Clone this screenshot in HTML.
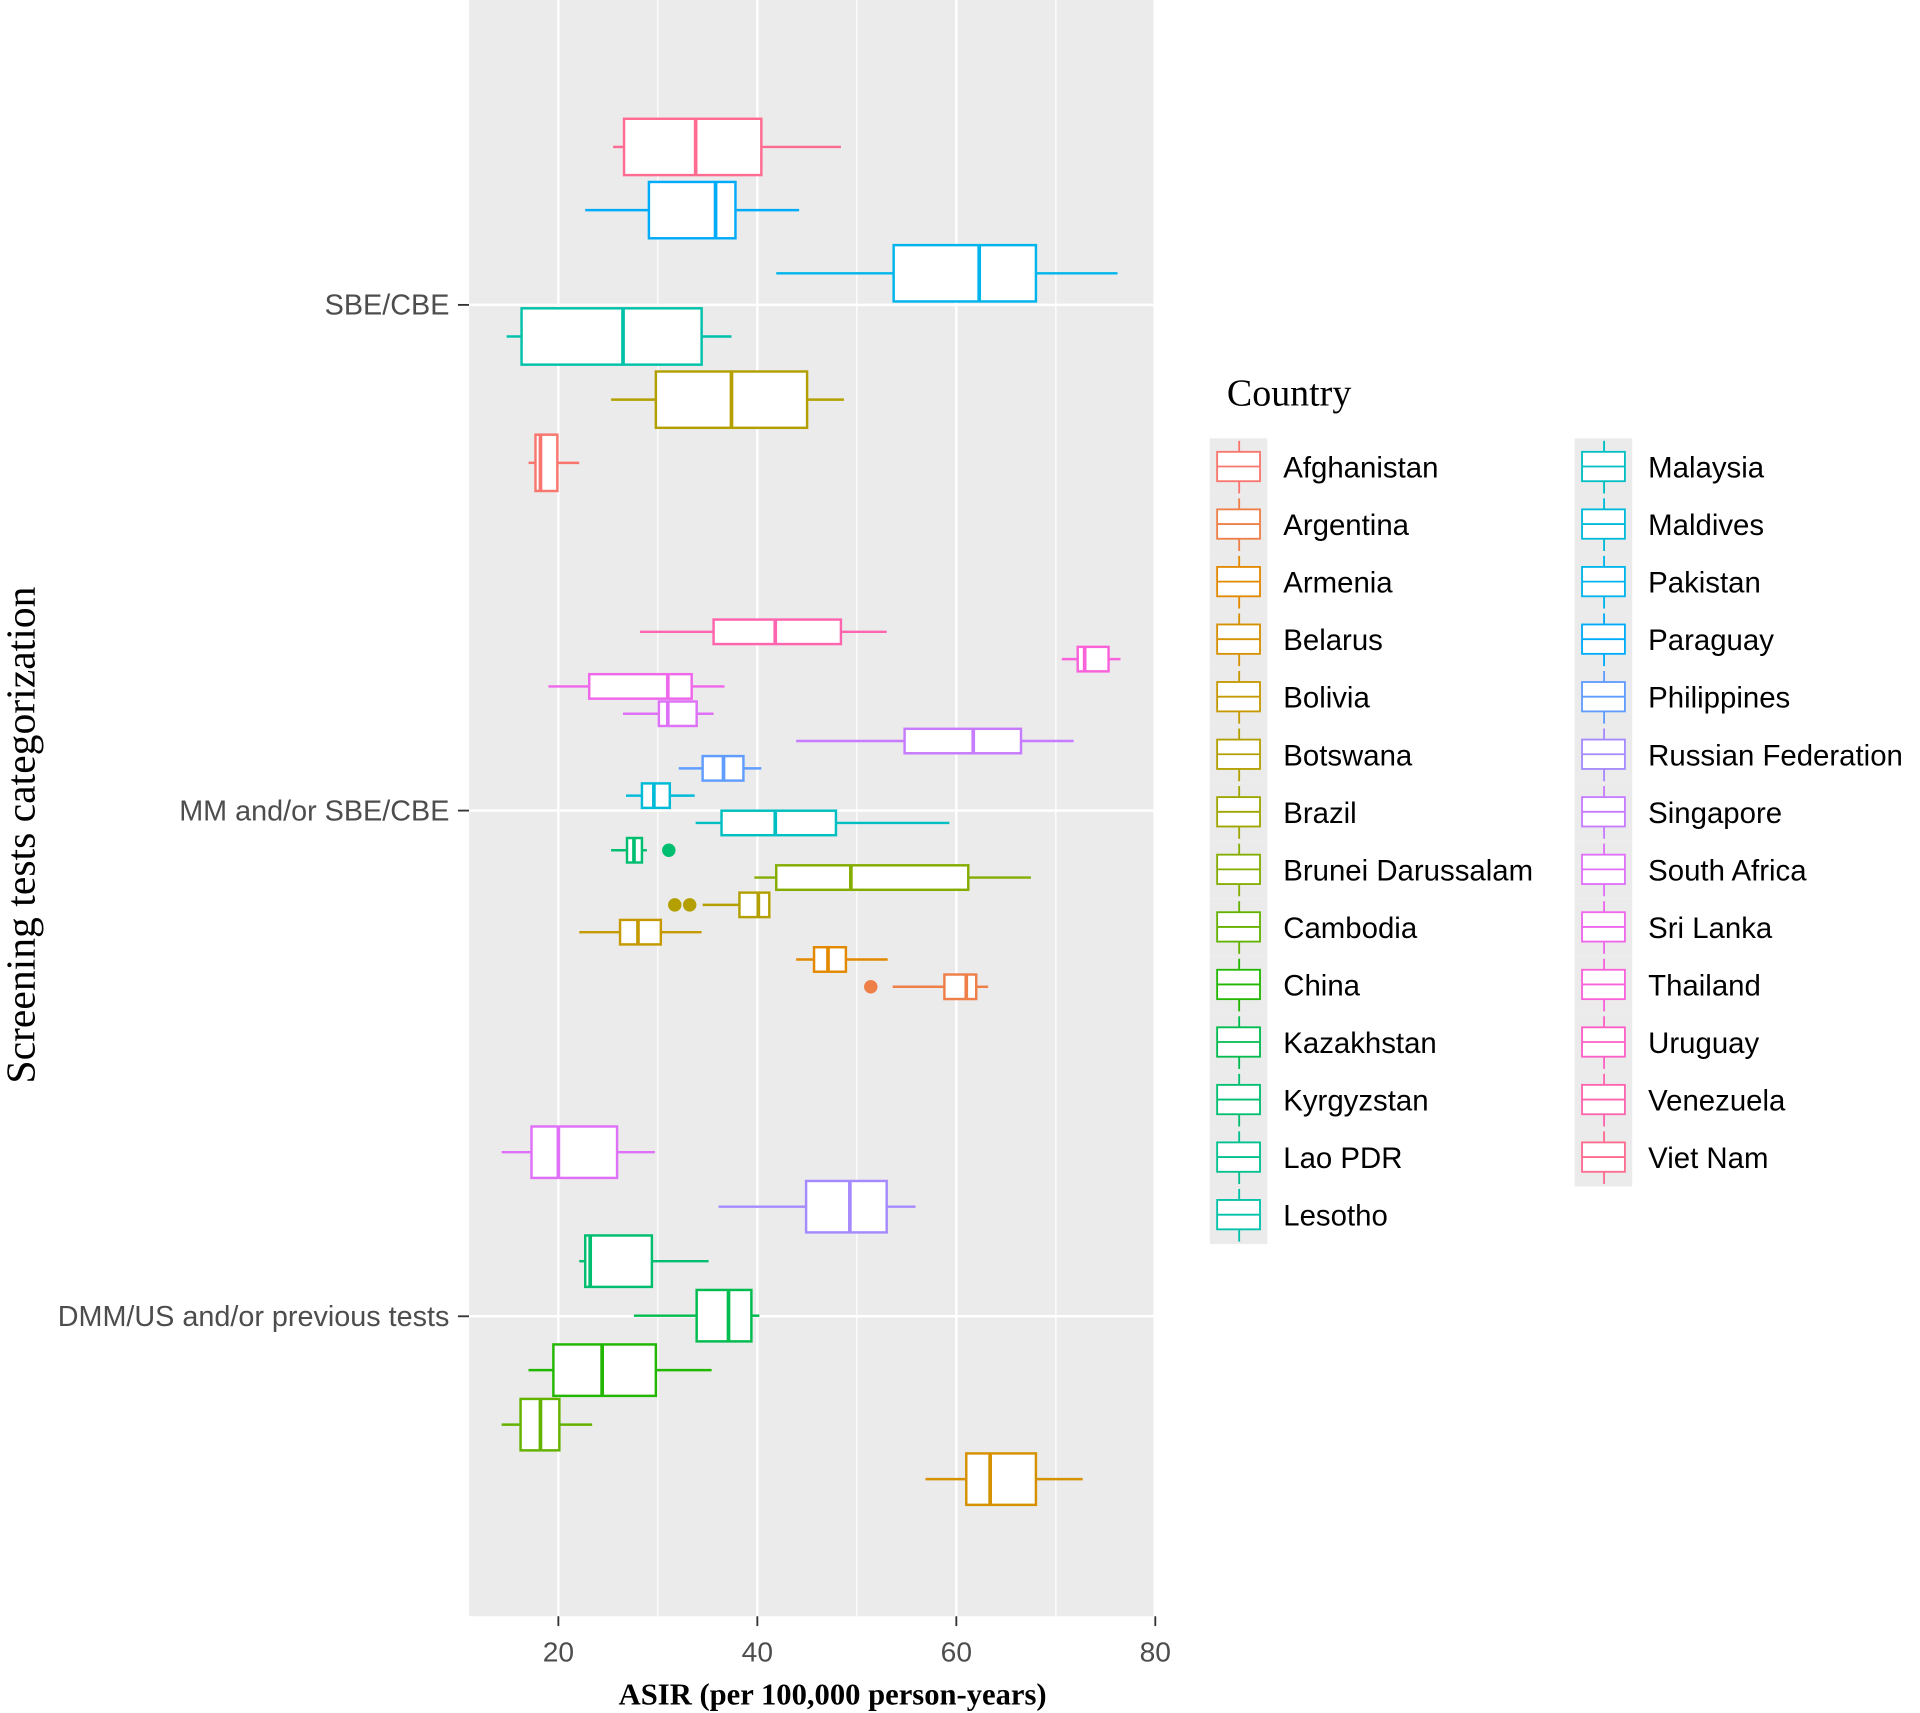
<!DOCTYPE html>
<html><head><meta charset="utf-8"><style>
html,body{margin:0;padding:0;background:#fff}
svg{display:block}
text{font-family:"Liberation Sans",sans-serif}
.serif{font-family:"Liberation Serif",serif}
</style></head><body>
<svg id="chart" width="1920" height="1713" viewBox="0 0 1568 1399" preserveAspectRatio="none" xmlns="http://www.w3.org/2000/svg">
<rect x="383" y="0" width="559" height="1320" fill="#EBEBEB"/>
<g id="grid"></g><g id="boxes"></g><g id="axes"></g><g id="legend"></g>
<text x="680" y="1392" text-anchor="middle" class="serif" font-size="25" font-weight="bold" fill="#000">ASIR (per 100,000 person-years)</text>
<text transform="translate(28,682) rotate(-90)" text-anchor="middle" class="serif" font-size="34" fill="#000">Screening tests categorization</text>
<text x="1002" y="331" class="serif" font-size="31" fill="#000">Country</text>
</svg>
<script>
const countries=["Afghanistan","Argentina","Armenia","Belarus","Bolivia","Botswana","Brazil","Brunei Darussalam","Cambodia","China","Kazakhstan","Kyrgyzstan","Lao PDR","Lesotho","Malaysia","Maldives","Pakistan","Paraguay","Philippines","Russian Federation","Singapore","South Africa","Sri Lanka","Thailand","Uruguay","Venezuela","Viet Nam"];
const colors=["#F8766D","#EF7F49","#E38900","#D59100","#C59900","#B3A000","#9FA600","#85AD00","#64B200","#22B700","#00BB4E","#00BE70","#00C08E","#00C1A9","#00BFC2","#00BBD8","#00B5EB","#00ABFA","#619CFF","#A58AFF","#C77CFF","#DF70F8","#EF67EB","#FA62DB","#FF61C6","#FF65AE","#FF6C91"];
const categories=["SBE/CBE","MM and/or SBE/CBE","DMM/US and/or previous tests"];
const xTicks=[20,40,60,80];
const boxCountry=[26,17,16,13,5,0, 25,23,22,21,20,18,15,14,11,7,5,4,2,1, 21,19,11,10,9,8,3];
const boxCat=[0,0,0,0,0,0, 1,1,1,1,1,1,1,1,1,1,1,1,1,1, 2,2,2,2,2,2,2];
const boxSlot=[0,1,2,3,4,5, 0,1,2,3,4,5,6,7,8,9,10,11,12,13, 0,1,2,3,4,5,6];
const whiskLo=[25.5,22.7,41.9,14.8,25.3,17.0, 28.2,70.6,19.0,26.5,43.9,32.1,26.8,33.8,25.3,39.7,34.5,22.1,43.9,53.6, 14.3,36.1,22.1,27.6,17.0,14.3,56.9];
const q1=[26.6,29.1,53.7,16.3,29.8,17.7, 35.6,72.2,23.1,30.1,54.8,34.5,28.4,36.4,26.9,41.9,38.2,26.2,45.7,58.8, 17.3,44.9,22.7,33.9,19.5,16.2,61.0];
const median=[33.8,35.8,62.3,26.5,37.4,18.2, 41.8,72.9,31.0,31.0,61.7,36.6,29.6,41.8,27.6,49.4,40.1,28.0,47.1,61.0, 20.0,49.3,23.2,37.1,24.4,18.2,63.4];
const q3=[40.4,37.8,68.0,34.4,45.0,19.9, 48.4,75.3,33.4,33.9,66.5,38.6,31.2,47.9,28.4,61.2,41.2,30.3,48.9,62.0, 25.9,53.0,29.4,39.4,29.8,20.1,68.0];
const whiskHi=[48.4,44.2,76.2,37.4,48.7,22.1, 53.0,76.5,36.7,35.6,71.8,40.4,33.7,59.3,28.9,67.5,41.3,34.4,53.1,63.2, 29.7,55.9,35.1,40.2,35.4,23.4,72.7];
const outliers=[[],[],[],[],[],[], [],[],[],[],[],[],[],[],[31.1],[],[31.7,33.2],[],[],[51.4], [],[],[],[],[],[],[]];

const NS="http://www.w3.org/2000/svg";
const X=v=>456+(v-20)*8.125;
const catY=[249,662,1075];
const catStart=[120,516,941], catStep=[51.6,22.3,44.5], catH=[46,20,42];
const Y=(c,s)=>catStart[c]+s*catStep[c];
function mk(tag,attrs,parent){const e=document.createElementNS(NS,tag);for(const k in attrs)e.setAttribute(k,attrs[k]);parent.appendChild(e);return e;}
const grid=document.getElementById('grid'),boxes=document.getElementById('boxes'),axes=document.getElementById('axes'),legend=document.getElementById('legend');
[30,50,70].forEach(v=>{const l=mk('line',{x1:X(v),x2:X(v),y1:0,y2:1320,stroke:'#fff','stroke-width':1},grid);

});
xTicks.forEach(v=>{const l=mk('line',{x1:X(v),x2:X(v),y1:0,y2:1320,stroke:'#fff','stroke-width':2},grid);


const t=mk('line',{x1:X(v),x2:X(v),y1:1320,y2:1328,stroke:'#333','stroke-width':1.5},axes);


const tx=mk('text',{x:X(v),y:1357,'text-anchor':'middle','font-size':23,fill:'#4D4D4D'},axes);tx.textContent=v;

});
categories.forEach((c,i)=>{const l=mk('line',{x1:383,x2:942,y1:catY[i],y2:catY[i],stroke:'#fff','stroke-width':2},grid);


const t=mk('line',{x1:374,x2:383,y1:catY[i],y2:catY[i],stroke:'#333','stroke-width':1.5},axes);


const tx=mk('text',{x:367,y:catY[i]+8,'text-anchor':'end','font-size':23.5,fill:'#4D4D4D'},axes);tx.textContent=c;

});
boxCountry.forEach((ci,i)=>{const c=boxCat[i],y=Y(c,boxSlot[i]),h=catH[c],col=colors[ci];
const g=mk('g',{stroke:col,'stroke-width':2,fill:'#fff'},boxes);


mk('line',{x1:X(whiskLo[i]),x2:X(q1[i]),y1:y,y2:y},g);
mk('line',{x1:X(q3[i]),x2:X(whiskHi[i]),y1:y,y2:y},g);
mk('rect',{x:X(q1[i]),y:y-h/2,width:X(q3[i])-X(q1[i]),height:h},g);
mk('line',{x1:X(median[i]),x2:X(median[i]),y1:y-h/2,y2:y+h/2,'stroke-width':3},g);
outliers[i].forEach(o=>{const d=mk('circle',{cx:X(o),cy:y,r:5.5,fill:col,stroke:'none'},g);

});});
countries.forEach((n,i)=>{const col=i<14?0:1,r=i<14?i:i-14;const kx=col?1286:988,ky=358+r*47,cx=kx+24,cy=ky+23;
const g=mk('g',{},legend);


mk('rect',{x:kx,y:ky,width:47,height:47,fill:'#EBEBEB'},g);
mk('line',{x1:cx,x2:cx,y1:ky+2,y2:ky+45,stroke:colors[i],'stroke-width':1.5},g);
mk('rect',{x:kx+6,y:cy-12,width:35,height:24,fill:'#fff',stroke:colors[i],'stroke-width':1.5},g);
mk('line',{x1:kx+6,x2:kx+41,y1:cy,y2:cy,stroke:colors[i],'stroke-width':1.5},g);
const t=mk('text',{x:col?1346:1048,y:cy+9,'font-size':24,fill:'#000'},g);t.textContent=n;});
</script>
</body></html>
